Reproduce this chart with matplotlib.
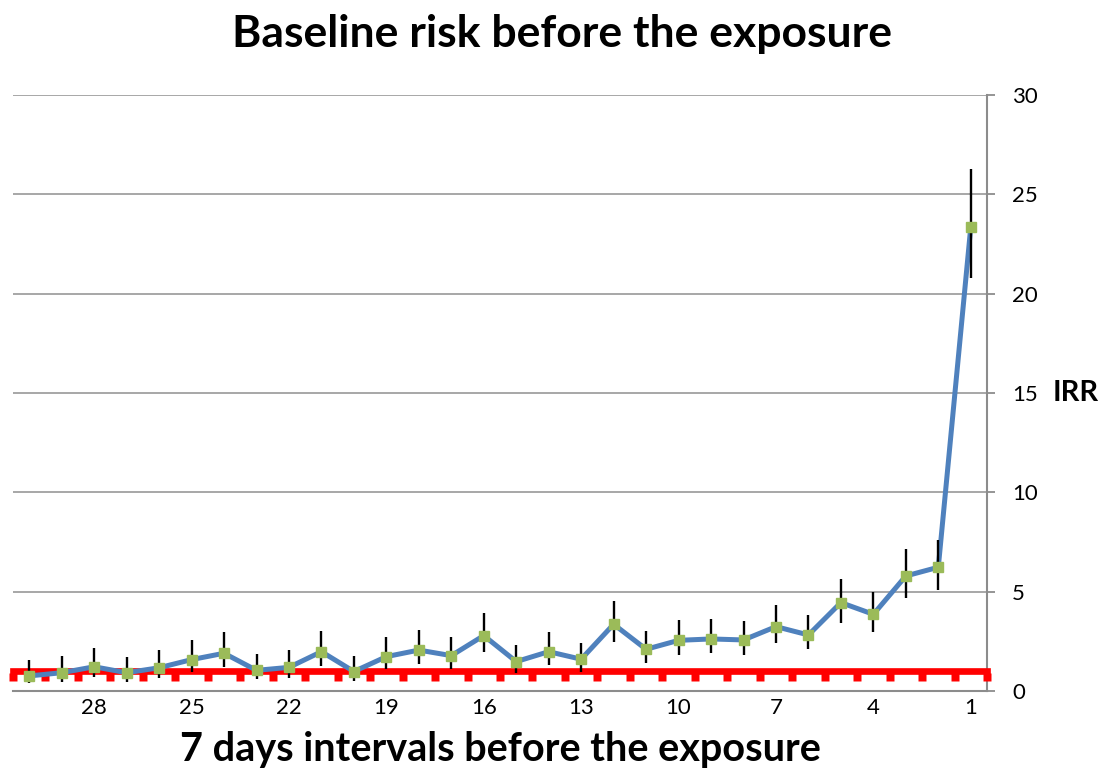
import numpy as np
import matplotlib
matplotlib.use("Agg")
import matplotlib.pyplot as plt
from matplotlib.path import Path

plt.rcParams['font.family'] = ['Lato', 'DejaVu Sans']

# ---- data ----
intervals = list(range(30, 0, -1))
irr = [0.76, 0.92, 1.22, 0.92, 1.17, 1.58, 1.90, 1.04, 1.19, 1.98,
       0.98, 1.73, 2.06, 1.78, 2.79, 1.48, 1.98, 1.60, 3.36, 2.10,
       2.55, 2.62, 2.57, 3.24, 2.82, 4.45, 3.86, 5.79, 6.23, 23.35]
ci_low = [0.39, 0.47, 0.72, 0.47, 0.67, 0.97, 1.22, 0.59, 0.67, 1.27,
          0.52, 1.11, 1.36, 1.11, 1.98, 0.92, 1.31, 0.97, 2.48, 1.43,
          1.81, 1.90, 1.81, 2.43, 2.10, 3.44, 2.99, 4.70, 5.09, 20.78]
ci_high = [1.56, 1.76, 2.15, 1.70, 2.06, 2.57, 2.97, 1.85, 2.06, 3.02,
           1.76, 2.73, 3.07, 2.73, 3.94, 2.32, 2.99, 2.43, 4.53, 3.04,
           3.58, 3.63, 3.52, 4.33, 3.83, 5.64, 5.00, 7.15, 7.60, 26.27]
baseline = 1.0
tick_labels = [28, 25, 22, 19, 16, 13, 10, 7, 4, 1]
y_ticks = [0, 5, 10, 15, 20, 25, 30]

title = "Baseline risk before the exposure"
xlabel = "7 days intervals before the exposure"
ylabel = "IRR"

# ---- figure ----
W, H = 1104, 771
fig = plt.figure(figsize=(W / 100, H / 100), dpi=100)
ax = fig.add_axes([13 / W, 1 - 691 / H, (987 - 13) / W, (691 - 95) / H])

n = len(intervals)
pos = np.arange(n)
bounds = np.arange(n + 1) - 0.5

# baseline red line with offset square markers below it
below_sq = Path([(-0.4, -1.0), (0.4, -1.0), (0.4, -0.25), (-0.4, -0.25), (-0.4, -1.0)],
                [Path.MOVETO, Path.LINETO, Path.LINETO, Path.LINETO, Path.CLOSEPOLY])
ax.plot(bounds, [baseline] * (n + 1), color='#FF0000', lw=4.8,
        marker=below_sq, markersize=14, markerfacecolor='#FF0000',
        markeredgecolor='none', zorder=3, clip_on=False)

irr_a = np.array(irr)
yerr = [irr_a - np.array(ci_low), np.array(ci_high) - irr_a]
ax.plot(pos, irr, color='#4F81BD', lw=3.6, zorder=4, solid_capstyle='round')
ax.errorbar(pos, irr, yerr=yerr, fmt='none', ecolor='black', elinewidth=1.7,
            capsize=0, zorder=5)
ax.plot(pos, irr, linestyle='none', marker='s', markersize=6.5,
        markerfacecolor='#9BBB59', markeredgecolor='#9BBB59', zorder=6)

ax.set_xlim(-0.5, n - 0.5)
ax.set_ylim(0, 30)

tick_pos = [intervals.index(t) for t in tick_labels]
ax.set_xticks(tick_pos)
ax.set_xticklabels([str(t) for t in tick_labels], fontsize=16)
ax.tick_params(axis='x', length=0, pad=5)

ax.yaxis.tick_right()
ax.set_yticks(y_ticks)
ax.set_yticklabels([str(t) for t in y_ticks], fontsize=16)
ax.tick_params(axis='y', length=6, width=1.3, color='#8C8C8C', pad=12)

ax.grid(axis='y', color='#A0A0A0', lw=1.3)
ax.set_axisbelow(True)
for s in ['left', 'top']:
    ax.spines[s].set_visible(False)
for s in ['right', 'bottom']:
    ax.spines[s].set_color('#8C8C8C')
    ax.spines[s].set_linewidth(1.5)

fig.text(562 / W, 1 - 34 / H, title, ha='center', va='center',
         fontsize=32, fontweight='bold')
fig.text(500 / W, 1 - 749 / H, xlabel, ha='center', va='center',
         fontsize=28.5, fontweight='bold')
fig.text(1076 / W, 1 - 393 / H, ylabel, ha='center', va='center',
         fontsize=21, fontweight='bold')

fig.savefig("out.png", dpi=100)
